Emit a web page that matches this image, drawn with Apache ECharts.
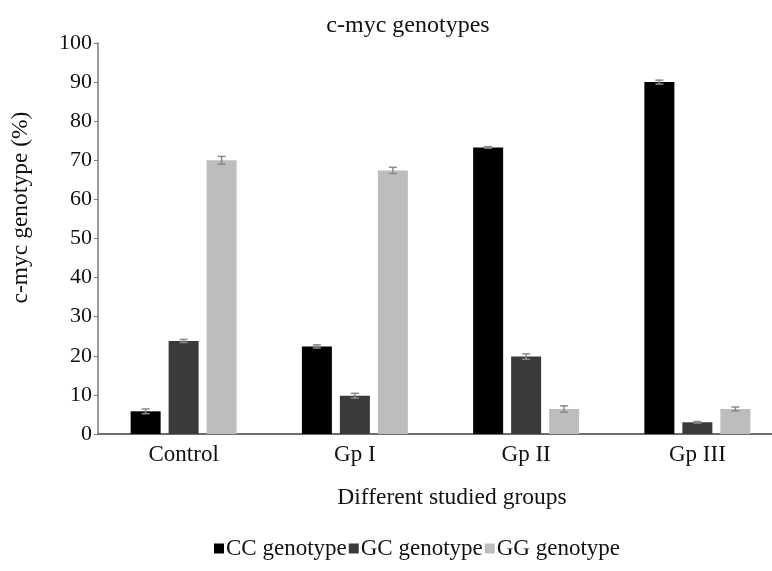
<!DOCTYPE html>
<html><head><meta charset="utf-8">
<script src="https://cdn.jsdelivr.net/npm/echarts@6/dist/echarts.min.js"></script>
<style>html,body{margin:0;padding:0;background:#fff;overflow:hidden;width:772px;height:571px}#c{width:783px;height:571px}</style>
</head><body><div id="c"></div>
<script>
var categories = ['Control', 'Gp I', 'Gp II', 'Gp III'];
var yTicks = [0, 10, 20, 30, 40, 50, 60, 70, 80, 90, 100];
var seriesNames = ['CC genotype', 'GC genotype', 'GG genotype'];
var ccValues = [5.8, 22.4, 73.3, 90.0];
var gcValues = [23.8, 9.8, 19.8, 3.0];
var ggValues = [70.0, 67.4, 6.4, 6.4];
var ccErrors = [0.6, 0.4, 0.2, 0.5];
var gcErrors = [0.4, 0.6, 0.7, 0.2];
var ggErrors = [1.0, 0.8, 0.8, 0.5];

var colors = ['#000000', '#3c3a39', '#bdbdbd'];
var FONT = '"Liberation Serif", "Times New Roman", serif';
var BAR_W = 30, GAP = 8;

function errSeries(values, errs, idx) {
  var offset = (idx - 1) * (BAR_W + GAP);
  var data = values.map(function (v, i) { return [i, v - errs[i], v + errs[i]]; });
  return {
    type: 'custom',
    name: seriesNames[idx] + ' err',
    data: data,
    z: 10,
    silent: true,
    renderItem: function (params, api) {
      var lo = api.coord([api.value(0), api.value(1)]);
      var hi = api.coord([api.value(0), api.value(2)]);
      var x = lo[0] + offset;
      var hw = 4;
      var st = { stroke: '#8a8a8a', lineWidth: 1.5 };
      return {
        type: 'group',
        children: [
          { type: 'line', shape: { x1: x, y1: lo[1], x2: x, y2: hi[1] }, style: st },
          { type: 'line', shape: { x1: x - hw, y1: lo[1], x2: x + hw, y2: lo[1] }, style: st },
          { type: 'line', shape: { x1: x - hw, y1: hi[1], x2: x + hw, y2: hi[1] }, style: st }
        ]
      };
    }
  };
}

var chart = echarts.init(document.getElementById('c'), null, { renderer: 'canvas' });
chart.setOption({
  animation: false,
  backgroundColor: '#ffffff',
  textStyle: { fontFamily: FONT },
  title: {
    text: 'c-myc genotypes',
    left: 403, top: 9, textAlign: 'center',
    textStyle: { fontFamily: FONT, fontSize: 24, fontWeight: 'normal', color: '#111' }
  },
  legend: {
    data: seriesNames.map(function (n, i) { return { name: n, itemStyle: { color: colors[i] } }; }),
    left: 209, bottom: 6,
    icon: 'rect', itemWidth: 10, itemHeight: 10, itemGap: 2,
    textStyle: { fontFamily: FONT, fontSize: 23, color: '#111', padding: [0, 0, 0, -3] }
  },
  grid: { left: 98, top: 43, bottom: 137, right: 0, containLabel: false },
  xAxis: {
    type: 'category',
    data: categories,
    name: 'Different studied groups',
    nameLocation: 'middle',
    nameGap: 52,
    nameTextStyle: { fontFamily: FONT, fontSize: 23.5, color: '#111', padding: [0, 0, 0, 23] },
    axisLine: { show: true, lineStyle: { color: '#6e6e6e', width: 2 } },
    axisTick: { show: false },
    axisLabel: { fontFamily: FONT, fontSize: 23, color: '#111', margin: 9 }
  },
  yAxis: {
    type: 'value',
    min: 0, max: 100, interval: 10,
    name: 'c-myc genotype (%)',
    nameLocation: 'middle',
    nameGap: 65,
    nameRotate: 90,
    nameTextStyle: { fontFamily: FONT, fontSize: 23.5, color: '#111', padding: [0, 0, 0, 62] },
    axisLine: { show: true, lineStyle: { color: '#7a7a7a', width: 1.5 } },
    axisTick: { show: true, inside: false, length: 4, lineStyle: { color: '#7a7a7a' } },
    splitLine: { show: false },
    axisLabel: {
      fontFamily: FONT, fontSize: 22, color: '#111', margin: 6,
      formatter: function (v) { return yTicks.indexOf(v) >= 0 ? String(v) : ''; }
    }
  },
  series: [
    { type: 'bar', name: seriesNames[0], data: ccValues, barWidth: BAR_W, barGap: (GAP / BAR_W * 100) + '%', itemStyle: { color: colors[0] } },
    { type: 'bar', name: seriesNames[1], data: gcValues, barWidth: BAR_W, barGap: (GAP / BAR_W * 100) + '%', itemStyle: { color: colors[1] } },
    { type: 'bar', name: seriesNames[2], data: ggValues, barWidth: BAR_W, barGap: (GAP / BAR_W * 100) + '%', itemStyle: { color: colors[2] } },
    errSeries(ccValues, ccErrors, 0),
    errSeries(gcValues, gcErrors, 1),
    errSeries(ggValues, ggErrors, 2)
  ]
});
</script>
</body></html>
